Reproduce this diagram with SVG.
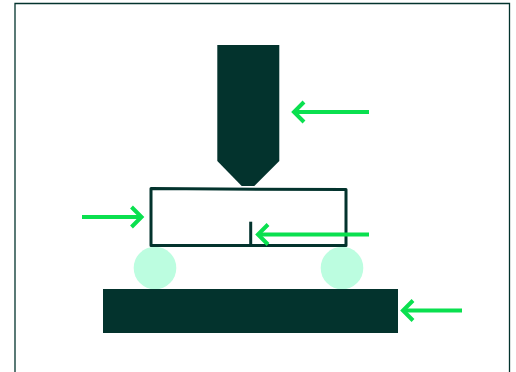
<svg xmlns="http://www.w3.org/2000/svg" width="516" height="372" viewBox="0 0 516 372">
<defs><style>
.a{fill:none;stroke:#0ae04f;stroke-width:4;stroke-linecap:butt;stroke-linejoin:miter}
.d{fill:#03332d}
.r{fill:#bcfde0}
</style></defs>
<rect width="516" height="372" fill="#fff"/>
<path d="M15 372V3.500H509.500V372" fill="none" stroke="#03332d" stroke-width="1.300"/>
<g id="punch"><path class="d" d="M217.300 45H279.300V161L254.300 186H241.700L217.300 161Z"/></g>
<g id="support-left"><circle class="r" cx="155" cy="268" r="21.300"/></g>
<g id="support-right"><circle class="r" cx="342" cy="268" r="21.300"/></g>
<g id="specimen"><path d="M151 188.600L346 189.600V245.500H151Z" fill="#fff" stroke="#03332d" stroke-width="3" stroke-linejoin="round"/><path d="M250.700 221.700V245" stroke="#03332d" stroke-width="3" fill="none"/></g>
<g id="base"><rect class="d" x="103" y="289" width="295" height="44"/></g>
<g id="connectors">
<path class="a" d="M369 112H294"/><path class="a" d="M304 102L294 112L304 122"/>
<path class="a" d="M82 217H141"/><path class="a" d="M131.500 207L141.500 217L131.500 227"/>
<path class="a" d="M369 234.500H258"/><path class="a" d="M268 224.500L258 234.500L268 244.500"/>
<path class="a" d="M462 310.500H403"/><path class="a" d="M413 300.500L403 310.500L413 320.500"/>
</g>
</svg>
